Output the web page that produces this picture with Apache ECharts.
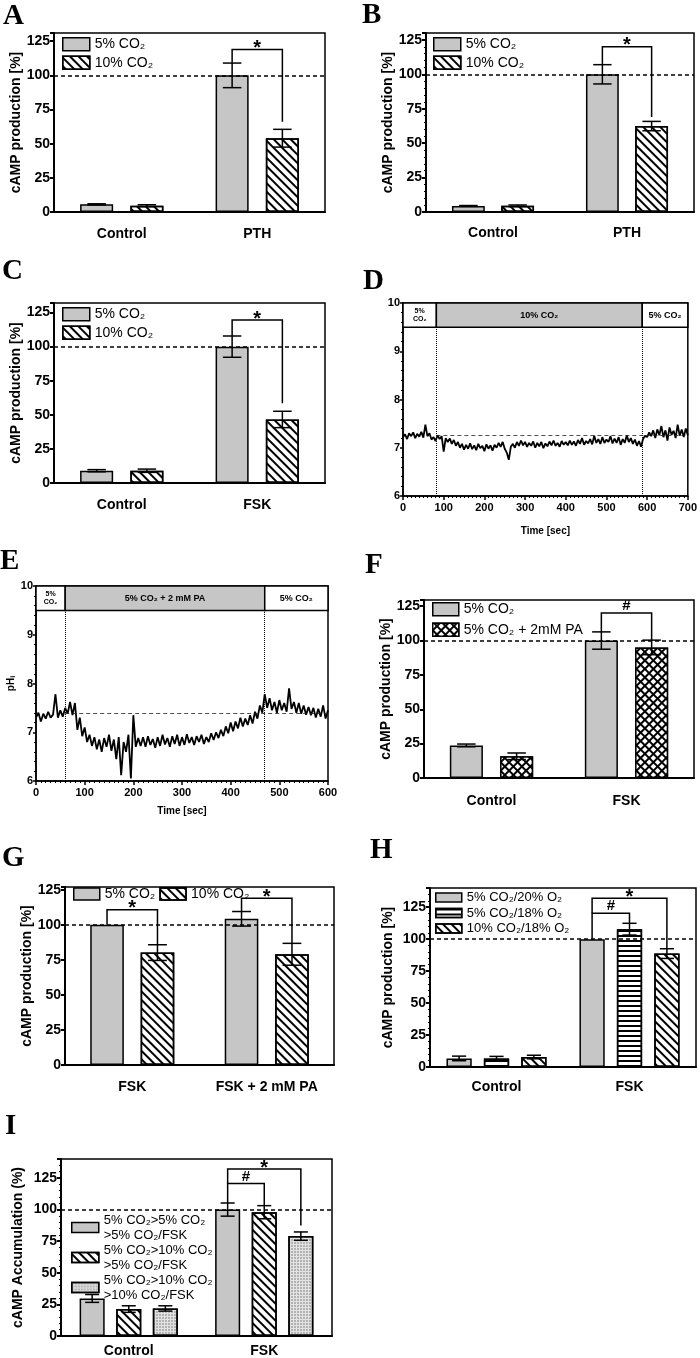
<!DOCTYPE html>
<html><head><meta charset="utf-8">
<script src="https://cdn.jsdelivr.net/npm/echarts@6/dist/echarts.min.js"></script>
<style>html,body{margin:0;padding:0;background:#fff}#c{width:700px;height:1358px}</style>
</head><body><div id="c"></div>
<script>
// ---------------- DATA ----------------
// Panel A
const A_cats = ['Control', 'PTH'];
const A_5pct = [5.6, 100];   const A_5pct_sem = [0.4, 9];
const A_10pct = [4.6, 54];   const A_10pct_sem = [0.7, 6.5];
const A_sig = [[1, 0, 1, 119, 109, 66]]; const A_sigLabel = ['*'];
// Panel B
const B_cats = ['Control', 'PTH'];
const B_5pct = [4.4, 100];   const B_5pct_sem = [0.3, 7];
const B_10pct = [4.5, 62.4]; const B_10pct_sem = [0.6, 3.4];
const B_sig = [[1, 0, 1, 120, 107, 69]]; const B_sigLabel = ['*'];
// Panel C
const C_cats = ['Control', 'FSK'];
const C_5pct = [9, 100];     const C_5pct_sem = [0.8, 7.8];
const C_10pct = [9, 46.6];   const C_10pct_sem = [1.2, 6];
const C_sig = [[1, 0, 1, 119.5, 107.8, 58.5]]; const C_sigLabel = ['*'];
// Panel D (pHi trace, 5 s sampling)
const D_step = 5;
const D_pH = [7.22,7.28,7.18,7.3,7.24,7.32,7.2,7.29,7.23,7.33,7.21,7.48,7.24,7.3,7.17,7.22,7.14,7.26,7.18,7.24,
6.92,7.2,7.12,7.19,7.08,7.16,7.04,7.12,7.0,7.08,6.96,7.06,6.98,7.09,6.97,7.05,6.95,7.08,6.99,7.04,
6.93,7.07,6.98,7.05,6.94,7.06,7.0,7.1,7.02,7.12,6.98,6.9,6.75,7.02,7.08,7.0,7.12,7.04,7.15,7.05,
7.12,7.02,7.1,7.04,7.13,7.0,7.1,7.03,7.12,6.99,7.09,7.03,7.13,7.05,7.15,7.04,7.1,7.02,7.14,7.06,
7.12,7.05,7.15,7.06,7.13,7.04,7.16,7.08,7.2,7.06,7.14,7.09,7.18,7.07,7.25,7.1,7.18,7.08,7.22,7.1,
7.17,7.12,7.24,7.09,7.19,7.1,7.22,7.06,7.18,7.1,7.26,7.12,7.2,7.08,7.17,7.04,7.14,7.02,7.18,7.25,
7.22,7.32,7.24,7.36,7.2,7.38,7.26,7.45,7.22,7.36,7.15,7.42,7.27,7.35,7.2,7.48,7.25,7.38,7.22,7.4,7.26];
const D_phaseBounds = [0, 82, 588, 700];
const D_phaseLabels = ['5%\nCO\u2082', '10% CO\u2082', '5% CO\u2082'];
const D_baseline = 7.25;
// Panel E (pHi trace, 5 s sampling)
const E_step = 5;
const E_pH = [7.3,7.4,7.22,7.38,7.28,7.42,7.3,7.36,7.78,7.3,7.45,7.32,7.5,7.38,7.62,7.35,7.6,7.05,7.3,6.92,
7.1,6.8,6.95,6.72,6.9,6.65,6.85,6.6,6.88,6.7,6.95,6.62,6.85,6.45,6.9,6.12,6.8,6.6,6.95,6.05,
7.35,6.7,6.88,6.72,6.9,6.7,6.92,6.74,6.86,6.68,6.9,6.72,6.95,6.75,6.88,6.7,6.92,6.76,6.95,6.72,
6.9,6.74,6.96,6.78,6.9,6.74,6.92,6.8,6.95,6.76,6.9,6.8,6.98,6.84,7.0,6.88,7.05,6.92,7.12,6.98,
7.2,7.02,7.22,7.08,7.3,7.12,7.28,7.15,7.35,7.18,7.42,7.28,7.55,7.4,7.78,7.5,7.7,7.45,7.62,7.4,
7.66,7.45,7.6,7.42,7.9,7.48,7.62,7.4,7.6,7.38,7.55,7.36,7.52,7.35,7.5,7.3,7.48,7.32,7.55,7.28,7.45];
const E_phaseBounds = [0, 60, 470, 600];
const E_phaseLabels = ['5%\nCO\u2082', '5% CO\u2082 + 2 mM PA', '5% CO\u2082'];
const E_baseline = 7.38;
// Panel F
const F_cats = ['Control', 'FSK'];
const F_5pct = [23.7, 100];  const F_5pct_sem = [1, 6.3];
const F_PA = [15.8, 95];     const F_PA_sem = [2.4, 5.3];
const F_sig = [[1, 0, 1, 120, 106.3, 100.3]]; const F_sigLabel = ['#'];
// Panel G
const G_cats = ['FSK', 'FSK + 2 mM PA'];
const G_5pct = [100, 104.3]; const G_5pct_sem = [0, 5.2];
const G_10pct = [80.2, 79];  const G_10pct_sem = [5.6, 7.8];
const G_sig = [[0, 0, 1, 110.7, 100, 85.8], [1, 0, 1, 119, 109.5, 86.8]]; const G_sigLabel = ['*', '*'];
// Panel H
const H_cats = ['Control', 'FSK'];
const H_5_20 = [6.7, 100];   const H_5_20_sem = [1.8, 0];
const H_5_18 = [6.7, 107.8]; const H_5_18_sem = [1.6, 4.6];
const H_10_18 = [7.8, 88.7]; const H_10_18_sem = [1.4, 3.8];
const H_sig = [[1, 0, 2, 132, 120.3, 92.5], [1, 0, 1, 120.3, 100, 112.4]]; const H_sigLabel = ['*', '#'];
// Panel I
const I_cats = ['Control', 'FSK'];
const I_a = [29.7, 100];     const I_a_sem = [3.1, 5.2];
const I_b = [21.3, 97.9];    const I_b_sem = [2.6, 5.2];
const I_c = [21.8, 79];      const I_c_sem = [2.1, 3.3];
const I_sig = [[1, 0, 2, 132, 120.7, 87.4], [1, 0, 1, 120.7, 105.2, 103.1]]; const I_sigLabel = ['*', '#'];

// ---------------- STYLES ----------------
const FONT = '"Liberation Sans", Arial, Helvetica, sans-serif';
const SERIF = '"Liberation Serif", "Times New Roman", serif';
const GRAY = {color: '#c6c6c6', borderColor: '#000', borderWidth: 1.5};
const HATCH = {color: '#fff', borderColor: '#000', borderWidth: 1.5,
  decal: {symbol: 'rect', symbolSize: 1, color: '#000', dashArrayX: [1, 0], dashArrayY: [2, 4], rotation: Math.PI / 4}};
const HSTRIPE = {color: '#fff', borderColor: '#000', borderWidth: 1.5,
  decal: {symbol: 'rect', symbolSize: 1, color: '#000', dashArrayX: [1, 0], dashArrayY: [1.5, 2.5], rotation: 0}};
const CROSS = {color: '#000', borderColor: '#000', borderWidth: 1.5,
  decal: {symbol: 'rect', symbolSize: 1, color: '#fff', dashArrayX: [4, 2], dashArrayY: [4, 2], rotation: Math.PI / 4}};
const DOTS = {color: '#e2e2e2', borderColor: '#000', borderWidth: 1.5,
  decal: {symbol: 'circle', symbolSize: 0.8, color: '#777', dashArrayX: [2, 1], dashArrayY: [2, 1], rotation: 0}};

const option = {animation: false, backgroundColor: '#fff', grid: [], xAxis: [], yAxis: [], series: [], legend: [], graphic: []};

function offsetOf(i, n, w, g) {
  const total = n * w + (n - 1) * g * w;
  return -total / 2 + w / 2 + i * w * (1 + g);
}

function barPanel(p) {
  const gi = option.grid.length;
  option.grid.push({left: p.left, top: p.top, width: p.width, height: p.height, show: true,
    borderColor: '#000', borderWidth: 1.5, backgroundColor: 'transparent'});
  option.xAxis.push({type: 'category', gridIndex: gi, data: p.cats,
    axisLine: {lineStyle: {color: '#000', width: 2}},
    axisTick: {alignWithLabel: true, length: 5, lineStyle: {color: '#000', width: 2}},
    axisLabel: {color: '#000', fontWeight: 'bold', fontSize: 14, fontFamily: FONT, margin: p.labelMargin}});
  option.yAxis.push({type: 'value', gridIndex: gi, min: 0, max: p.yMax, interval: 25,
    name: p.yName, nameLocation: 'middle', nameGap: p.nameGap,
    nameTextStyle: {color: '#000', fontWeight: 'bold', fontSize: 14, fontFamily: FONT},
    axisLine: {show: true, lineStyle: {color: '#000', width: 2}},
    axisTick: {show: true, length: 4, lineStyle: {color: '#000', width: 2}},
    minorTick: {show: !!p.minor, splitNumber: 5, length: 2, lineStyle: {color: '#000', width: 1}},
    splitLine: {show: false},
    axisLabel: {color: '#000', fontWeight: 'bold', fontSize: 14, fontFamily: FONT, margin: 4,
      formatter: v => (v % 25 === 0 ? String(v) : '')}});
  const n = p.series.length, w = p.wFrac, g = p.gap;
  p.series.forEach((s, i) => {
    const bar = {type: 'bar', name: s.name, xAxisIndex: gi, yAxisIndex: gi, data: s.data,
      barWidth: (w * 100) + '%', barGap: (g * 100) + '%', itemStyle: s.style, z: 2};
    if (i === 0) {
      bar.markLine = {silent: true, symbol: ['none', 'none'], label: {show: false},
        lineStyle: {type: [4, 3], color: '#000', width: 1.5}, data: [{yAxis: 100}]};
    }
    option.series.push(bar);
    option.series.push({type: 'custom', name: s.name + ' SEM', xAxisIndex: gi, yAxisIndex: gi, z: 6,
      data: s.data.map((v, k) => [k, v, s.err[k]]),
      renderItem: (params, api) => {
        const c = api.value(0), v = api.value(1), e = api.value(2);
        if (!e) return null;
        const bw = api.size([1, 0])[0] * w;
        const x = api.coord([c, v])[0] + offsetOf(i, n, bw, g);
        const y1 = api.coord([c, v + e])[1], y2 = api.coord([c, v - e])[1];
        const cap = bw * 0.28;
        const st = {stroke: '#000', lineWidth: 1.5};
        return {type: 'group', children: [
          {type: 'line', shape: {x1: x, y1: y1, x2: x, y2: y2}, style: st},
          {type: 'line', shape: {x1: x - cap, y1: y1, x2: x + cap, y2: y1}, style: st},
          {type: 'line', shape: {x1: x - cap, y1: y2, x2: x + cap, y2: y2}, style: st}]};
      }});
  });
  option.series.push({type: 'custom', name: 'significance', xAxisIndex: gi, yAxisIndex: gi, z: 7,
    data: p.sig,
    renderItem: (params, api) => {
      const c = api.value(0), i1 = api.value(1), i2 = api.value(2);
      const top = api.value(3), lb = api.value(4), rb = api.value(5);
      const bw = api.size([1, 0])[0] * w;
      const cx = api.coord([c, top])[0];
      const xa = cx + offsetOf(i1, n, bw, g), xb = cx + offsetOf(i2, n, bw, g);
      const yt = api.coord([c, top])[1], yl = api.coord([c, lb])[1], yr = api.coord([c, rb])[1];
      const lab = p.sigLabel[params.dataIndex];
      return {type: 'group', children: [
        {type: 'polyline', shape: {points: [[xa, yl], [xa, yt], [xb, yt], [xb, yr]]},
          style: {stroke: '#000', lineWidth: 1.5, fill: null}},
        {type: 'text', style: {text: lab, x: (xa + xb) / 2, y: yt + (lab === '*' ? -1 : -7),
          align: 'center', verticalAlign: 'middle', fill: '#000',
          font: lab === '*' ? 'bold 20px ' + FONT : 'bold 15px ' + FONT}}]};
    }});
  const lg = Object.assign({padding: 0, selectedMode: false, icon: 'rect', orient: 'vertical',
    itemStyle: {borderColor: '#000', borderWidth: 1.5},
    textStyle: {color: '#000', fontSize: 14, fontFamily: FONT}}, p.legend);
  lg.data = p.series.map(s => s.name);
  option.legend.push(lg);
}

function tracePanel(p) {
  const gi = option.grid.length;
  option.grid.push({left: p.left, top: p.top, width: p.width, height: p.height, show: true,
    borderColor: '#000', borderWidth: 1.5, backgroundColor: 'transparent'});
  const lab = {color: '#000', fontWeight: 'bold', fontSize: 11, fontFamily: FONT};
  option.xAxis.push({type: 'value', gridIndex: gi, min: 0, max: p.xMax, interval: 100,
    name: 'Time [sec]', nameLocation: 'middle', nameGap: p.xNameGap,
    nameTextStyle: {color: '#000', fontWeight: 'bold', fontSize: 10, fontFamily: FONT},
    axisLine: {lineStyle: {color: '#000', width: 1.5}},
    axisTick: {length: 4, lineStyle: {color: '#000', width: 1.5}},
    minorTick: {show: true, splitNumber: 10, length: 2, lineStyle: {color: '#000', width: 1}},
    splitLine: {show: false}, axisLabel: Object.assign({margin: 6}, lab)});
  option.yAxis.push({type: 'value', gridIndex: gi, min: 6, max: 10, interval: 1,
    name: p.yName, nameLocation: 'middle', nameGap: 18,
    nameTextStyle: {color: '#000', fontWeight: 'bold', fontSize: 10, fontFamily: FONT,
      rich: {s: {fontSize: 7, fontWeight: 'bold', fontFamily: FONT, verticalAlign: 'bottom', padding: [4, 0, 0, 0]}}},
    axisLine: {show: true, lineStyle: {color: '#000', width: 1.5}},
    axisTick: {show: true, length: 3, lineStyle: {color: '#000', width: 1.5}},
    minorTick: {show: true, splitNumber: 5, length: 2, lineStyle: {color: '#000', width: 1}},
    splitLine: {show: false}, axisLabel: Object.assign({margin: 3}, lab)});
  const b = p.bounds;
  const areas = p.labels.map((t, k) => [
    {xAxis: b[k], yAxis: 9.5, name: t, itemStyle: {color: k === 1 ? '#c6c6c6' : '#fff'},
      label: {fontSize: t.indexOf('\n') >= 0 ? 7 : 9, lineHeight: t.indexOf('\n') >= 0 ? 8 : 11}},
    {xAxis: b[k + 1], yAxis: 10}]);
  option.series.push({type: 'line', name: p.name, xAxisIndex: gi, yAxisIndex: gi,
    data: p.values.map((v, k) => [k * p.step, v]), showSymbol: false, symbol: 'none',
    lineStyle: {color: '#000', width: 1.8}, z: 3,
    markArea: {silent: true, itemStyle: {borderColor: '#000', borderWidth: 1.5, opacity: 1},
      label: {show: true, position: 'inside', color: '#000', fontWeight: 'bold', fontFamily: FONT}, data: areas},
    markLine: {silent: true, symbol: ['none', 'none'], label: {show: false},
      lineStyle: {color: '#000', width: 1, type: 'dotted'},
      data: [
        [{coord: [b[1], 6]}, {coord: [b[1], 9.5]}],
        [{coord: [b[2], 6]}, {coord: [b[2], 9.5]}],
        [{coord: [b[1], p.baseline], lineStyle: {type: [4, 3], width: 0.8, color: '#222'}}, {coord: [b[3], p.baseline]}]]}});
}

// ---------------- PANELS ----------------
const YT = 'cAMP production [%]';
barPanel({left: 54, top: 33, width: 271, height: 179, yMax: 131, cats: A_cats, yName: YT, nameGap: 30, labelMargin: 15,
  wFrac: 0.244, gap: 0.52, sig: A_sig, sigLabel: A_sigLabel,
  series: [{name: '5% CO\u2082', data: A_5pct, err: A_5pct_sem, style: GRAY},
           {name: '10% CO\u2082', data: A_10pct, err: A_10pct_sem, style: HATCH}],
  legend: {left: 62, top: 37, itemWidth: 27, itemHeight: 13, itemGap: 4}});
barPanel({left: 426, top: 33, width: 268, height: 179, yMax: 130, cats: B_cats, yName: YT, nameGap: 31, labelMargin: 14,
  minor: true, wFrac: 0.245, gap: 0.5, sig: B_sig, sigLabel: B_sigLabel,
  series: [{name: '5% CO\u2082', data: B_5pct, err: B_5pct_sem, style: GRAY},
           {name: '10% CO\u2082', data: B_10pct, err: B_10pct_sem, style: HATCH}],
  legend: {left: 433, top: 37, itemWidth: 27, itemHeight: 13, itemGap: 4}});
barPanel({left: 54, top: 303, width: 271, height: 180, yMax: 132, cats: C_cats, yName: YT, nameGap: 30, labelMargin: 15,
  wFrac: 0.244, gap: 0.52, sig: C_sig, sigLabel: C_sigLabel,
  series: [{name: '5% CO\u2082', data: C_5pct, err: C_5pct_sem, style: GRAY},
           {name: '10% CO\u2082', data: C_10pct, err: C_10pct_sem, style: HATCH}],
  legend: {left: 62, top: 307, itemWidth: 27, itemHeight: 13, itemGap: 4}});
tracePanel({left: 403, top: 303, width: 290, height: 193, xMax: 700, xNameGap: 30, yName: '',
  name: 'pHi (10% CO\u2082)', values: D_pH, step: D_step, bounds: D_phaseBounds, labels: D_phaseLabels, baseline: D_baseline});
tracePanel({left: 36, top: 586, width: 292, height: 195, xMax: 600, xNameGap: 25, yName: 'pH{s|i}',
  name: 'pHi (PA)', values: E_pH, step: E_step, bounds: E_phaseBounds, labels: E_phaseLabels, baseline: E_baseline});
barPanel({left: 424, top: 600, width: 270, height: 178, yMax: 129.5, cats: F_cats, yName: YT, nameGap: 28, labelMargin: 16,
  wFrac: 0.245, gap: 0.52, sig: F_sig, sigLabel: F_sigLabel,
  series: [{name: '5% CO\u2082', data: F_5pct, err: F_5pct_sem, style: GRAY},
           {name: '5% CO\u2082 + 2mM PA', data: F_PA, err: F_PA_sem, style: CROSS}],
  legend: {left: 432, top: 602, itemWidth: 26, itemHeight: 13, itemGap: 6}});
barPanel({left: 65, top: 887, width: 269, height: 178, yMax: 127, cats: G_cats, yName: YT, nameGap: 18, labelMargin: 15,
  wFrac: 0.25, gap: 0.5, sig: G_sig, sigLabel: G_sigLabel,
  series: [{name: '5% CO\u2082', data: G_5pct, err: G_5pct_sem, style: GRAY},
           {name: '10% CO\u2082', data: G_10pct, err: G_10pct_sem, style: HATCH}],
  legend: {left: 73, top: 887, orient: 'horizontal', itemWidth: 26, itemHeight: 12, itemGap: 4}});
barPanel({left: 430, top: 888, width: 266, height: 179, yMax: 140, cats: H_cats, yName: YT, nameGap: 35, labelMargin: 13,
  minor: true, wFrac: 0.19, gap: 0.48, sig: H_sig, sigLabel: H_sigLabel,
  series: [{name: '5% CO\u2082/20% O\u2082', data: H_5_20, err: H_5_20_sem, style: GRAY},
           {name: '5% CO\u2082/18% O\u2082', data: H_5_18, err: H_5_18_sem, style: HSTRIPE},
           {name: '10% CO\u2082/18% O\u2082', data: H_10_18, err: H_10_18_sem, style: HATCH}],
  legend: {left: 435, top: 890, itemWidth: 26, itemHeight: 9, itemGap: 0.5,
    textStyle: {color: '#000', fontSize: 13, lineHeight: 15, fontFamily: FONT}}});
barPanel({left: 61, top: 1159, width: 271, height: 179, yMax: 140, cats: I_cats, yName: 'cAMP Accumulation (%)', nameGap: 36, labelMargin: 8,
  minor: true, wFrac: 0.185, gap: 0.46, sig: I_sig, sigLabel: I_sigLabel,
  series: [{name: '5% CO\u2082>5% CO\u2082\n>5% CO\u2082/FSK', data: I_a, err: I_a_sem, style: GRAY},
           {name: '5% CO\u2082>10% CO\u2082\n>5% CO\u2082/FSK', data: I_b, err: I_b_sem, style: HATCH},
           {name: '5% CO\u2082>10% CO\u2082\n>10% CO\u2082/FSK', data: I_c, err: I_c_sem, style: DOTS}],
  legend: {left: 71, top: 1205, itemWidth: 27, itemHeight: 10, itemGap: -15,
    textStyle: {color: '#000', fontSize: 13, lineHeight: 15, fontFamily: FONT, padding: [15, 0, 0, 0]}}});

// panel letters
const panelLetters = [['A', 3, 2], ['B', 362, 1], ['C', 2, 257], ['D', 363, 267], ['E', 0, 547],
  ['F', 365, 551], ['G', 2, 844], ['H', 370, 836], ['I', 5, 1112]];
panelLetters.forEach(([t, x, y]) => option.graphic.push({type: 'text', left: x, top: y,
  style: {text: t, font: 'bold 29px ' + SERIF, fill: '#000'}}));

const chart = echarts.init(document.getElementById('c'), null, {renderer: 'canvas'});
chart.setOption(option);
</script></body></html>
